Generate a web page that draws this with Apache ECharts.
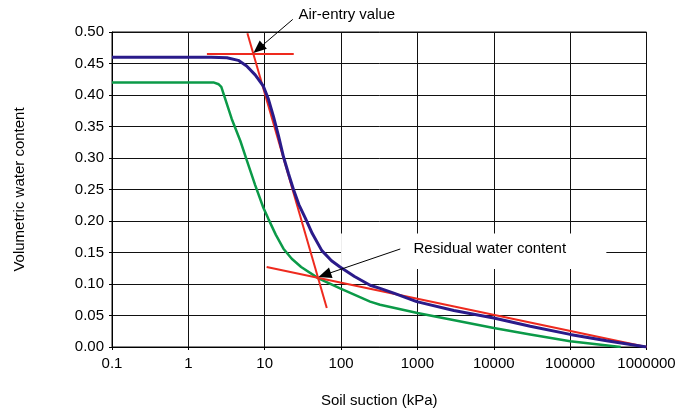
<!DOCTYPE html>
<html>
<head>
<meta charset="utf-8">
<script src="https://cdn.jsdelivr.net/npm/echarts@6/dist/echarts.min.js"></script>
<style>
html,body{margin:0;padding:0;background:#fff;}
#c{width:687px;height:413px;}
</style>
</head>
<body>
<div id="c"></div>
<script>
// ---- data ----
const xTickLabels = ['0.1','1','10','100','1000','10000','100000','1000000'];
const yTickLabels = ['0.00','0.05','0.10','0.15','0.20','0.25','0.30','0.35','0.40','0.45','0.50'];

const blueCurve = [[0.1,0.46],[1,0.46],[2,0.46],[3.2,0.459],[4.5,0.455],[5.8,0.446],[7.5,0.432],[9.6,0.414],[11.2,0.393],[13,0.366],[15.1,0.336],[17.6,0.302],[20.5,0.275],[23.8,0.25],[28,0.226],[33.9,0.205],[42,0.18],[56,0.153],[75,0.137],[97,0.127],[150,0.112],[240,0.098],[324,0.093],[500,0.085],[977,0.072],[3000,0.058],[10000,0.046],[30000,0.033],[100000,0.02],[300000,0.01],[1000000,0]];
const greenCurve = [[0.1,0.42],[1,0.42],[2.13,0.42],[2.5,0.417],[2.7,0.413],[3.7,0.362],[4.8,0.327],[5.8,0.297],[7.5,0.257],[9.6,0.221],[11.2,0.203],[14,0.178],[17.6,0.156],[22.6,0.140],[30,0.127],[50.6,0.109],[97,0.093],[240,0.072],[324,0.067],[1000,0.054],[10000,0.030],[30000,0.02],[100000,0.009],[460000,0.0]];
const redHorizontal = [[1.75,0.465],[24,0.465]];
const redSteep = [[5.93,0.498],[65,0.062]];
const redResidual = [[10.6,0.127],[1000000,0.0]];

const airEntryArrow = [[23.3,0.520],[7.11,0.4666]];
const residualArrow = [[596,0.1556],[50.6,0.1113]];
const airEntryLabel = {text:'Air-entry value', at:[27.7,0.5277]};
const residualLabel = {text:'Residual water content', at:[889,0.156]};
const residualBox = [[100,0.124],[298000,0.180]];

const chart = echarts.init(document.getElementById('c'), null, {renderer:'canvas'});
const FONT = 'Liberation Sans, Arial, sans-serif';
const txt = {color:'#000', fontFamily:FONT, fontSize:15};

function lineSeries(data, color, width, z){
  return {type:'line', data:data, symbol:'none', smooth:false, z:z,
    lineStyle:{color:color, width:width}, animation:false, silent:true};
}

chart.setOption({
  animation:false,
  backgroundColor:'#fff',
  grid:{left:112, right:40.5, top:32, bottom:62, show:true, borderColor:'#111', borderWidth:1, backgroundColor:'transparent'},
  xAxis:{
    type:'log', logBase:10, min:0.1, max:1000000,
    name:'Soil suction (kPa)', nameLocation:'middle', nameGap:46,
    nameTextStyle:Object.assign({}, txt),
    axisLine:{show:true, lineStyle:{color:'#000', width:1}},
    axisTick:{show:true, length:3, lineStyle:{color:'#000'}},
    minorTick:{show:false},
    axisLabel:Object.assign({margin:9, formatter:function(v){
      const i = Math.round(Math.log10(v)) + 1; return xTickLabels[i] !== undefined ? xTickLabels[i] : '';
    }}, txt),
    splitLine:{show:true, lineStyle:{color:'#111', width:1}}
  },
  yAxis:{
    type:'value', min:0, max:0.5, interval:0.05,
    name:'Volumetric water content', nameLocation:'middle', nameGap:85,
    nameTextStyle:Object.assign({}, txt),
    axisLine:{show:true, lineStyle:{color:'#000', width:1}},
    axisTick:{show:true, length:3, lineStyle:{color:'#000'}},
    axisLabel:Object.assign({margin:8, formatter:function(v){
      const i = Math.round(v/0.05); return yTickLabels[i] !== undefined ? yTickLabels[i] : '';
    }}, txt),
    splitLine:{show:true, lineStyle:{color:'#111', width:1}}
  },
  series:[
    lineSeries(greenCurve, '#0b9a48', 2.5, 3),
    lineSeries(redHorizontal, '#ee2a1e', 2, 4),
    lineSeries(redSteep, '#ee2a1e', 2, 4),
    lineSeries(redResidual, '#ee2a1e', 2, 4),
    lineSeries(blueCurve, '#2a1b8a', 3, 5),
    {
      type:'line', data:[], silent:true, z:1,
      markArea:{silent:true, z:1, itemStyle:{color:'#fff', opacity:1}, label:{show:false},
        data:[[{coord:residualBox[0]},{coord:residualBox[1]}]]}
    }
  ]
});

// annotations: arrows and texts placed from data coordinates
function arrowGraphics(arrow){
  const a = chart.convertToPixel({gridIndex:0}, arrow[0]);
  const b = chart.convertToPixel({gridIndex:0}, arrow[1]);
  const dx = b[0]-a[0], dy = b[1]-a[1];
  const len = Math.sqrt(dx*dx+dy*dy);
  const ux = dx/len, uy = dy/len;
  const hl = 13, hw = 5.5;
  const base = [b[0]-ux*hl, b[1]-uy*hl];
  return [
    {type:'line', z:100, silent:true, shape:{x1:a[0], y1:a[1], x2:base[0]+ux*2, y2:base[1]+uy*2},
      style:{stroke:'#000', lineWidth:1}},
    {type:'polygon', z:100, silent:true, shape:{points:[b, [base[0]-uy*hw, base[1]+ux*hw], [base[0]+uy*hw, base[1]-ux*hw]]},
      style:{fill:'#000'}}
  ];
}
function textGraphic(lbl){
  const p = chart.convertToPixel({gridIndex:0}, lbl.at);
  return {type:'text', z:100, silent:true, x:p[0], y:p[1],
    style:{text:lbl.text, fill:'#000', font:'15px ' + FONT, textAlign:'left', textVerticalAlign:'middle'}};
}
chart.setOption({graphic:{elements:[].concat(
  arrowGraphics(airEntryArrow), arrowGraphics(residualArrow),
  [textGraphic(airEntryLabel), textGraphic(residualLabel)]
)}});
</script>
</body>
</html>
